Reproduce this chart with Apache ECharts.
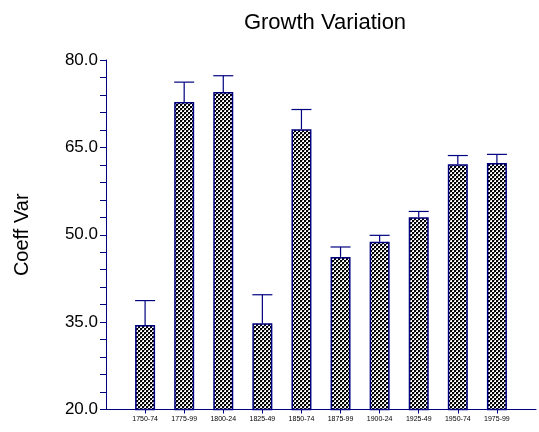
<!DOCTYPE html>
<html>
<head>
<meta charset="utf-8">
<script src="https://cdn.jsdelivr.net/npm/echarts@6/dist/echarts.min.js"></script>
<style>html,body{margin:0;padding:0;background:#fff}#c{width:539px;height:432px}</style>
</head>
<body>
<div id="c"></div>
<script>
var categories = ['1750-74','1775-99','1800-24','1825-49','1850-74','1875-99','1900-24','1925-49','1950-74','1975-99'];
var values = [34.5, 72.8, 74.5, 34.8, 68.1, 46.2, 48.8, 53.0, 62.1, 62.3];
var upperErr = [38.7, 76.2, 77.3, 39.7, 71.5, 47.9, 49.9, 54.0, 63.6, 63.8];
var yTicks = [20, 35, 50, 65, 80];

// pattern tile
var tile = document.createElement('canvas');
tile.width = 4; tile.height = 4;
var tctx = tile.getContext('2d');
tctx.fillStyle = '#ffffff';
tctx.fillRect(0, 0, 4, 4);
tctx.fillStyle = '#000000';
tctx.fillRect(0, 0, 2, 2);
tctx.fillRect(2, 2, 2, 2);
tctx.fillStyle = '#999999';
tctx.fillRect(2, 0, 1, 1);
tctx.fillRect(0, 2, 1, 1);

// padded categories: blank slot at each end
var axisCats = [''].concat(categories).concat(['']);
var barData = [null].concat(values).concat([null]);
var errData = upperErr.map(function (u, i) { return [i + 1, values[i], u]; });

var navy = '#000080';
var chart = echarts.init(document.getElementById('c'), null, {renderer: 'canvas'});
chart.setOption({
  animation: false,
  backgroundColor: '#ffffff',
  title: {
    text: 'Growth Variation',
    left: 320, top: 7, textAlign: 'center',
    textStyle: {fontFamily: 'Liberation Sans, Arial', fontSize: 22, fontWeight: 'normal', color: '#000'}
  },
  grid: {left: 106, right: -4, top: 60, bottom: 22.5, containLabel: false},
  xAxis: {
    type: 'category',
    data: axisCats,
    boundaryGap: false,
    axisLine: {lineStyle: {color: navy, width: 1}},
    axisTick: {show: true, length: 4, inside: false, lineStyle: {color: navy},
      interval: function (idx) { return idx > 0 && idx <= categories.length; }},
    axisLabel: {fontFamily: 'Liberation Sans, Arial', fontSize: 7, color: '#000', margin: 6,
      interval: 0},
    splitLine: {show: false}
  },
  yAxis: {
    type: 'value',
    min: 20, max: 80, interval: 15,
    name: 'Coeff Var',
    nameLocation: 'middle',
    nameGap: 74,
    nameTextStyle: {fontFamily: 'Liberation Sans, Arial', fontSize: 20, color: '#000'},
    axisLine: {show: true, lineStyle: {color: navy, width: 1}},
    axisTick: {show: true, length: 6, lineStyle: {color: navy}},
    minorTick: {show: true, splitNumber: 5, length: 6, lineStyle: {color: navy}},
    axisLabel: {fontFamily: 'Liberation Sans, Arial', fontSize: 17, color: '#000', margin: 8,
      formatter: function (v) { return yTicks.indexOf(v) >= 0 ? v.toFixed(1) : ''; }},
    splitLine: {show: false}
  },
  series: [
    {
      type: 'bar',
      data: barData,
      barWidth: 20,
      itemStyle: {
        color: {image: tile, repeat: 'repeat'},
        borderColor: navy,
        borderWidth: 1.5
      }
    },
    {
      type: 'custom',
      data: errData,
      z: 1,
      renderItem: function (params, api) {
        var base = api.coord([api.value(0), api.value(1)]);
        var top = api.coord([api.value(0), api.value(2)]);
        var hw = 10;
        return {
          type: 'group',
          children: [
            {type: 'line', shape: {x1: base[0], y1: base[1], x2: top[0], y2: top[1]},
              style: {stroke: navy, lineWidth: 1.2}},
            {type: 'line', shape: {x1: top[0] - hw, y1: top[1], x2: top[0] + hw, y2: top[1]},
              style: {stroke: navy, lineWidth: 1.2}}
          ]
        };
      }
    }
  ]
});
</script>
</body>
</html>
